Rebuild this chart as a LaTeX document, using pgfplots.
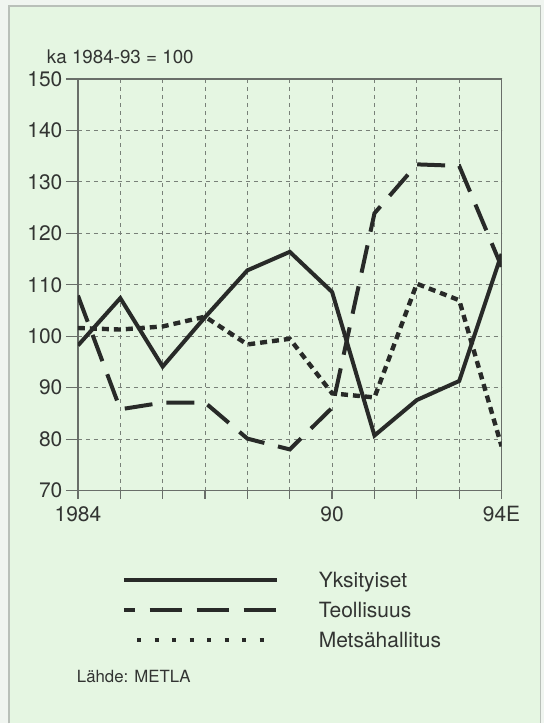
\documentclass[border=0pt]{standalone}
\usepackage{fontspec}
\setmainfont{TeX Gyre Heros}
\usepackage{pgfplots}
\pgfplotsset{compat=1.18}

\definecolor{pagebg}{RGB}{240,245,240}
\definecolor{cardbg}{RGB}{229,246,226}
\definecolor{cardedge}{RGB}{185,192,185}
\definecolor{ink}{RGB}{40,42,40}
\definecolor{txt}{RGB}{50,52,50}
\definecolor{axgray}{RGB}{105,110,105}
\definecolor{gridgray}{RGB}{120,128,120}

\begin{document}
\begin{tikzpicture}
% card background
\fill[pagebg] (0,0) rectangle (272pt,362pt);
\fill[cardbg] (4.5pt,0) rectangle (270.5pt,359pt);
\draw[cardedge, line width=0.6pt] (4.5pt,0) -- (4.5pt,359pt) -- (270.5pt,359pt) -- (270.5pt,0);

\begin{axis}[
  at={(39pt,116.5pt)}, anchor=south west,
  scale only axis, width=212pt, height=206pt,
  xmin=1984, xmax=1994, ymin=70, ymax=150,
  xtick={1984,...,1994},
  xticklabels={1984,,,,,,90,,,,94E},
  ytick={70,80,...,150},
  tick align=outside, xtick pos=bottom, ytick pos=left,
  xtick style={draw=axgray, line width=0.6pt, /pgfplots/major tick length=4pt},
  ytick style={draw=axgray, line width=0.6pt, /pgfplots/major tick length=6pt},
  axis line style={draw=axgray, line width=0.6pt},
  grid=major,
  major grid style={draw=gridgray, line width=0.45pt, dash pattern=on 2pt off 2pt},
  tick label style={font=\fontsize{10.5}{12}\selectfont, text=txt},
  /pgf/number format/assume math mode=true,
  legend style={at={(0.103,-0.199)}, anchor=north west, draw=none, fill=none,
    inner sep=0pt, outer sep=0pt, row sep=7.4pt,
    font=\fontsize{10.5}{12}\selectfont, text=txt,
    nodes={inner sep=0pt, text height=7.6pt, text depth=0pt}},
  legend cell align=left,
]
\addplot[ink, line width=2pt, line join=miter,
  legend image code/.code={\draw[ink, line width=2pt] (0pt,0pt) -- (76.5pt,0pt); \path (96.5pt,0pt);}]
coordinates {
  (1984,98.2)(1985,107.4)(1986,94.1)(1987,103.7)(1988,112.8)(1989,116.4)
  (1990,108.6)(1991,80.7)(1992,87.6)(1993,91.3)(1994,116.0)
};
\addlegendentry{Yksityiset}
\addplot[ink, line width=2pt, dash pattern=on 14pt off 7pt,
  legend image code/.code={\draw[ink, line width=2pt, dash pattern=on 16pt off 7.5pt, dash phase=10.5pt] (0pt,0pt) -- (76.5pt,0pt); \path (96.5pt,0pt);}]
coordinates {
  (1984,107.9)(1985,85.8)(1986,87.1)(1987,87.1)(1988,80.1)(1989,78.0)
  (1990,86.1)(1991,123.9)(1992,133.4)(1993,133.1)(1994,113.5)
};
\addlegendentry{Teollisuus}
\addplot[ink, line width=2.2pt, dash pattern=on 3.5pt off 2.5pt,
  legend image code/.code={\draw[ink, line width=2pt, dash pattern=on 2pt off 6.75pt] (6.7pt,0pt) -- (76.5pt,0pt); \path (0pt,0pt) (96.5pt,0pt);}]
coordinates {
  (1984,101.6)(1985,101.3)(1986,101.9)(1987,103.8)(1988,98.4)(1989,99.5)
  (1990,88.9)(1991,88.1)(1992,110.2)(1993,107.0)(1994,78.6)
};
\addlegendentry{Metsähallitus}
\end{axis}

\node[anchor=west, inner sep=0pt, text=txt, font=\fontsize{9.4}{11}\selectfont] at (23.3pt,333.5pt) {ka 1984-93 = 100};
\node[anchor=west, inner sep=0pt, text=txt, font=\fontsize{8.4}{10}\selectfont] at (38.3pt,23.65pt) {Lähde: METLA};
\end{tikzpicture}
\end{document}
